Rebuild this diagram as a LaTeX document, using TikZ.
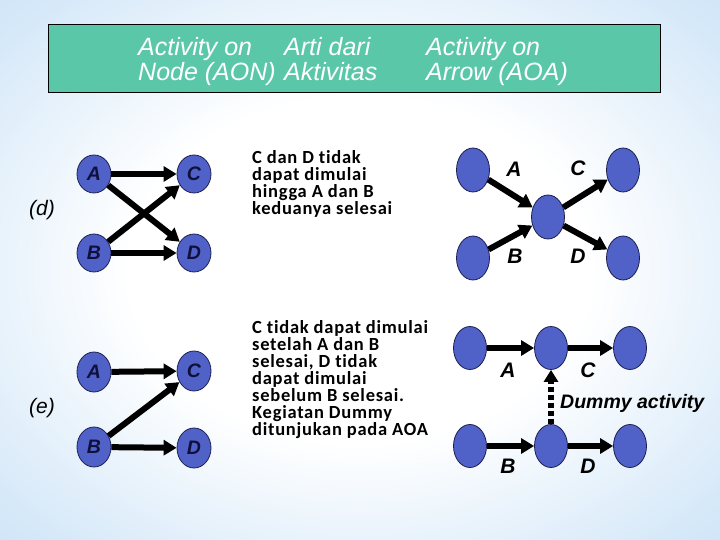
\documentclass[tikz,border=0pt]{standalone}
\usepackage{fontspec}
\setmainfont{Liberation Sans}
\newfontfamily\bodyfont[LetterSpace=4,Ligatures={NoCommon}]{Carlito}
\usetikzlibrary{shapes.geometric,arrows.meta}
\definecolor{bgblue}{RGB}{176,212,243}
\definecolor{hdrfill}{RGB}{91,199,169}
\definecolor{nodec}{RGB}{80,98,200}
\definecolor{edgec}{RGB}{28,30,80}
\definecolor{textc}{RGB}{16,16,60}
\pgfdeclareradialshading{bgsh}{\pgfpoint{0bp}{0bp}}{color(0bp)=(white); color(16bp)=(white); color(32bp)=(bgblue!50); color(48bp)=(bgblue!92); color(72bp)=(bgblue)}
\begin{document}
\begin{tikzpicture}[x=1pt,y=-1pt,
  ev/.style={ellipse, draw=edgec, line width=0.8pt, fill=nodec, inner sep=0pt,
    minimum width=34pt, minimum height=38pt, text=textc,
    font=\bfseries\itshape\fontsize{19.5}{19.5}\selectfont},
  aoa/.style={ev, minimum width=33pt, minimum height=44pt},
  arr/.style={line width=6pt, -{Triangle[length=13pt,width=15pt]}},
  lab/.style={font=\bfseries\itshape\fontsize{21}{21}\selectfont},
  body/.style={anchor=north west, align=left, inner sep=0pt,
    font=\bodyfont\bfseries\fontsize{18.5}{17}\selectfont},
  hdr/.style={anchor=north west, align=left, inner sep=0pt, text=white,
    font=\itshape\fontsize{25}{25}\selectfont},
  part/.style={font=\itshape\fontsize{21}{21}\selectfont}
]
\useasboundingbox (0,0) rectangle (720,540);
\shade[shading=bgsh] (0,0) rectangle (720,540);

% header
\draw[fill=hdrfill, line width=0.8pt] (48,24) rectangle (660,92);
\node[hdr] (h1) at (138,37) {Activity on\\Node (AON)};
\node[hdr] (h2) at (284,37) {Arti dari\\Aktivitas};
\node[hdr] (h3) at (426,37) {Activity on\\Arrow (AOA)};

% (d) AON
\node[part] (pd) at (42,210) {(d)};
\node[ev] (dA) at (94,174) {A};
\node[ev] (dC) at (194,174) {C};
\node[ev] (dB) at (94,253) {B};
\node[ev] (dD) at (194,253) {D};
\draw[arr] (dA) -- (dC);
\draw[arr] (dA) -- (dD);
\draw[arr] (dB) -- (dC);
\draw[arr] (dB) -- (dD);

% (e) AON
\node[part] (pe) at (42,408) {(e)};
\node[ev, minimum height=40pt] (eA) at (94,372) {A};
\node[ev, minimum height=40pt] (eC) at (194,371) {C};
\node[ev, minimum height=40pt] (eB) at (94,447) {B};
\node[ev, minimum height=40pt] (eD) at (194,448) {D};
\draw[arr] (eA) -- (eC);
\draw[arr] (eB) -- (eC);
\draw[arr] (eB) -- (eD);

% texts
\node[body] (t1) at (252,150) {C dan D tidak\\dapat dimulai\\hingga A dan B\\keduanya selesai};
\node[body] (t2) at (252,320) {C tidak dapat dimulai\\setelah A dan B\\selesai, D tidak\\dapat dimulai\\sebelum B selesai.\\Kegiatan Dummy\\ditunjukan pada AOA};

% (d) AOA
\node[aoa] (p1) at (473,170) {};
\node[aoa] (p2) at (548,217) {};
\node[aoa] (p3) at (623,170) {};
\node[aoa] (p4) at (473,258) {};
\node[aoa] (p5) at (623,258) {};
\draw[arr] (p1) -- (p2);
\draw[arr] (p4) -- (p2);
\draw[arr] (p2) -- (p3);
\draw[arr] (p2) -- (p5);
\node[lab] (lA) at (514,169) {A};
\node[lab] (lC) at (578,168) {C};
\node[lab] (lB) at (515,256) {B};
\node[lab] (lD) at (578,256) {D};

% (e) AOA
\node[aoa, minimum height=43pt] (q1) at (470,348) {};
\node[aoa, minimum height=43pt] (q2) at (551,348) {};
\node[aoa, minimum height=43pt] (q3) at (630,348) {};
\node[aoa, minimum height=43pt] (q4) at (470,446) {};
\node[aoa, minimum height=43pt] (q5) at (551,446) {};
\node[aoa, minimum height=43pt] (q6) at (630,446) {};
\draw[arr] (q1) -- (q2);
\draw[arr] (q2) -- (q3);
\draw[arr] (q4) -- (q5);
\draw[arr] (q5) -- (q6);
\draw[line width=5.5pt, dash pattern=on 5pt off 3pt, -{Triangle[length=12pt,width=14pt]}] (q5) -- (q2);
\node[lab] (mA) at (508,370) {A};
\node[lab] (mC) at (588,370) {C};
\node[lab] (mB) at (508,466) {B};
\node[lab] (mD) at (588,466) {D};
\node[anchor=west, inner sep=0pt, font=\bfseries\itshape\fontsize{19.5}{20}\selectfont] (dum) at (560,403) {Dummy activity};
\end{tikzpicture}
\end{document}
